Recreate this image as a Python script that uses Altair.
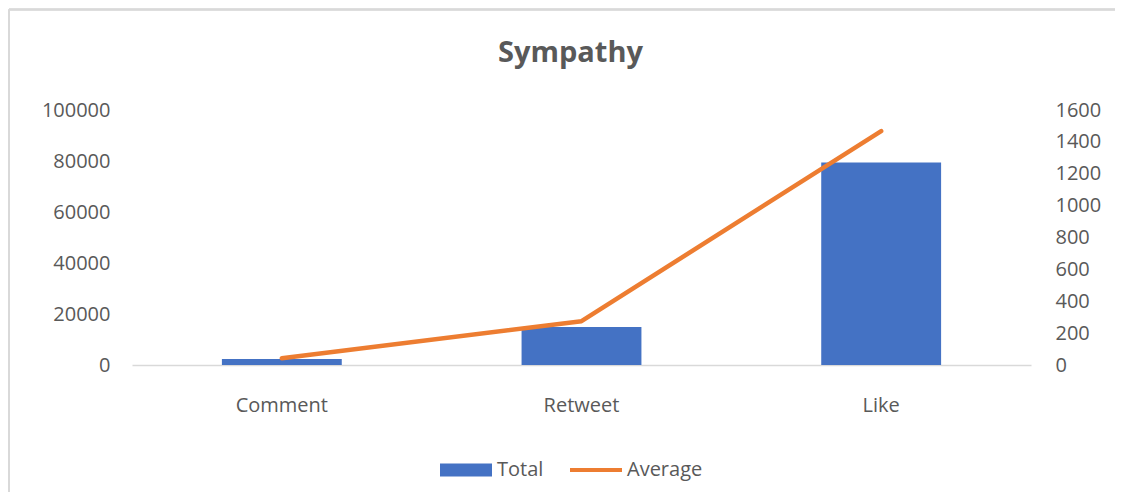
import altair as alt
import pandas as pd

categories = ["Comment", "Retweet", "Like"]
totals = [2400, 14900, 79400]
averages = [43, 275, 1468]
series_names = ["Total", "Average"]
series_colors = ["#4472C4", "#ED7D31"]

df = pd.DataFrame({"category": categories, "total": totals, "average": averages})
legend_df = pd.DataFrame({"series": series_names})

FONT = "Open Sans"
GRAY = "#595959"

x_enc = alt.X(
    "category:N",
    sort=categories,
    title=None,
    scale=alt.Scale(paddingInner=0.6, paddingOuter=0.3),
    axis=alt.Axis(labelAngle=0, ticks=False, domainColor="#D9D9D9", domainWidth=1.5,
                  labelPadding=30, labelFontSize=20, labelColor=GRAY, labelFont=FONT),
)

bars = alt.Chart(df).mark_bar(color=series_colors[0]).encode(
    x=x_enc,
    y=alt.Y("total:Q", title=None,
            scale=alt.Scale(domain=[0, 100000], nice=False),
            axis=alt.Axis(orient="left", values=list(range(0, 100001, 20000)), format="d",
                          ticks=False, domain=False, grid=False, labelPadding=22,
                          labelFontSize=20, labelColor=GRAY, labelFont=FONT)),
)

line = alt.Chart(df).mark_line(color=series_colors[1], strokeWidth=4.5, strokeCap="round",
                               strokeJoin="round").encode(
    x=alt.X("category:N", sort=categories),
    y=alt.Y("average:Q", title=None,
            scale=alt.Scale(domain=[0, 1600], nice=False),
            axis=alt.Axis(orient="right", values=list(range(0, 1601, 200)), format="d",
                          ticks=False, domain=False, grid=False, labelPadding=24,
                          labelFontSize=20, labelColor=GRAY, labelFont=FONT)),
)

leg = dict(title=None, orient="none", legendX=308, legendY=347,
           direction="horizontal", symbolSize=676, symbolStrokeWidth=0, symbolOpacity=1,
           labelOffset=31, columnPadding=26, padding=0,
           labelFontSize=20, labelColor=GRAY, labelFont=FONT)

legend_layer = alt.Chart(legend_df).transform_filter("false").mark_point(filled=True, size=676).encode(
    color=alt.Color("series:N", scale=alt.Scale(domain=series_names, range=series_colors),
                    legend=alt.Legend(**leg)),
    shape=alt.Shape("series:N", scale=alt.Scale(
        domain=series_names,
        range=["M-1,-0.5H3V0.5H-1Z", "M-1,-0.15H3V0.15H-1Z"]),
        legend=alt.Legend(**leg)),
)

frame_top = alt.Chart(df).mark_rule(color="#D9D9D9", strokeWidth=2).encode(
    x=alt.value(-123), x2=alt.value(1000), y=alt.value(-100.5))
frame_left = alt.Chart(df).mark_rule(color="#D9D9D9", strokeWidth=2).encode(
    x=alt.value(-123), y=alt.value(-100.5), y2=alt.value(400))

chart = alt.layer(frame_top, frame_left, bars, line, legend_layer).resolve_scale(
    y="independent"
).properties(
    width=899,
    height=255,
    autosize=alt.AutoSizeParams(type="none"),
    padding={"left": 124, "top": 102, "right": 84, "bottom": 127},
    title=alt.TitleParams("Sympathy", fontSize=29, fontWeight="bold", color=GRAY, font=FONT,
                          anchor="middle", dx=-11, offset=-82, baseline="alphabetic"),
).configure(background="white").configure_view(stroke=None)

chart.save("out.html", embed_options={"renderer": "svg", "actions": False})
